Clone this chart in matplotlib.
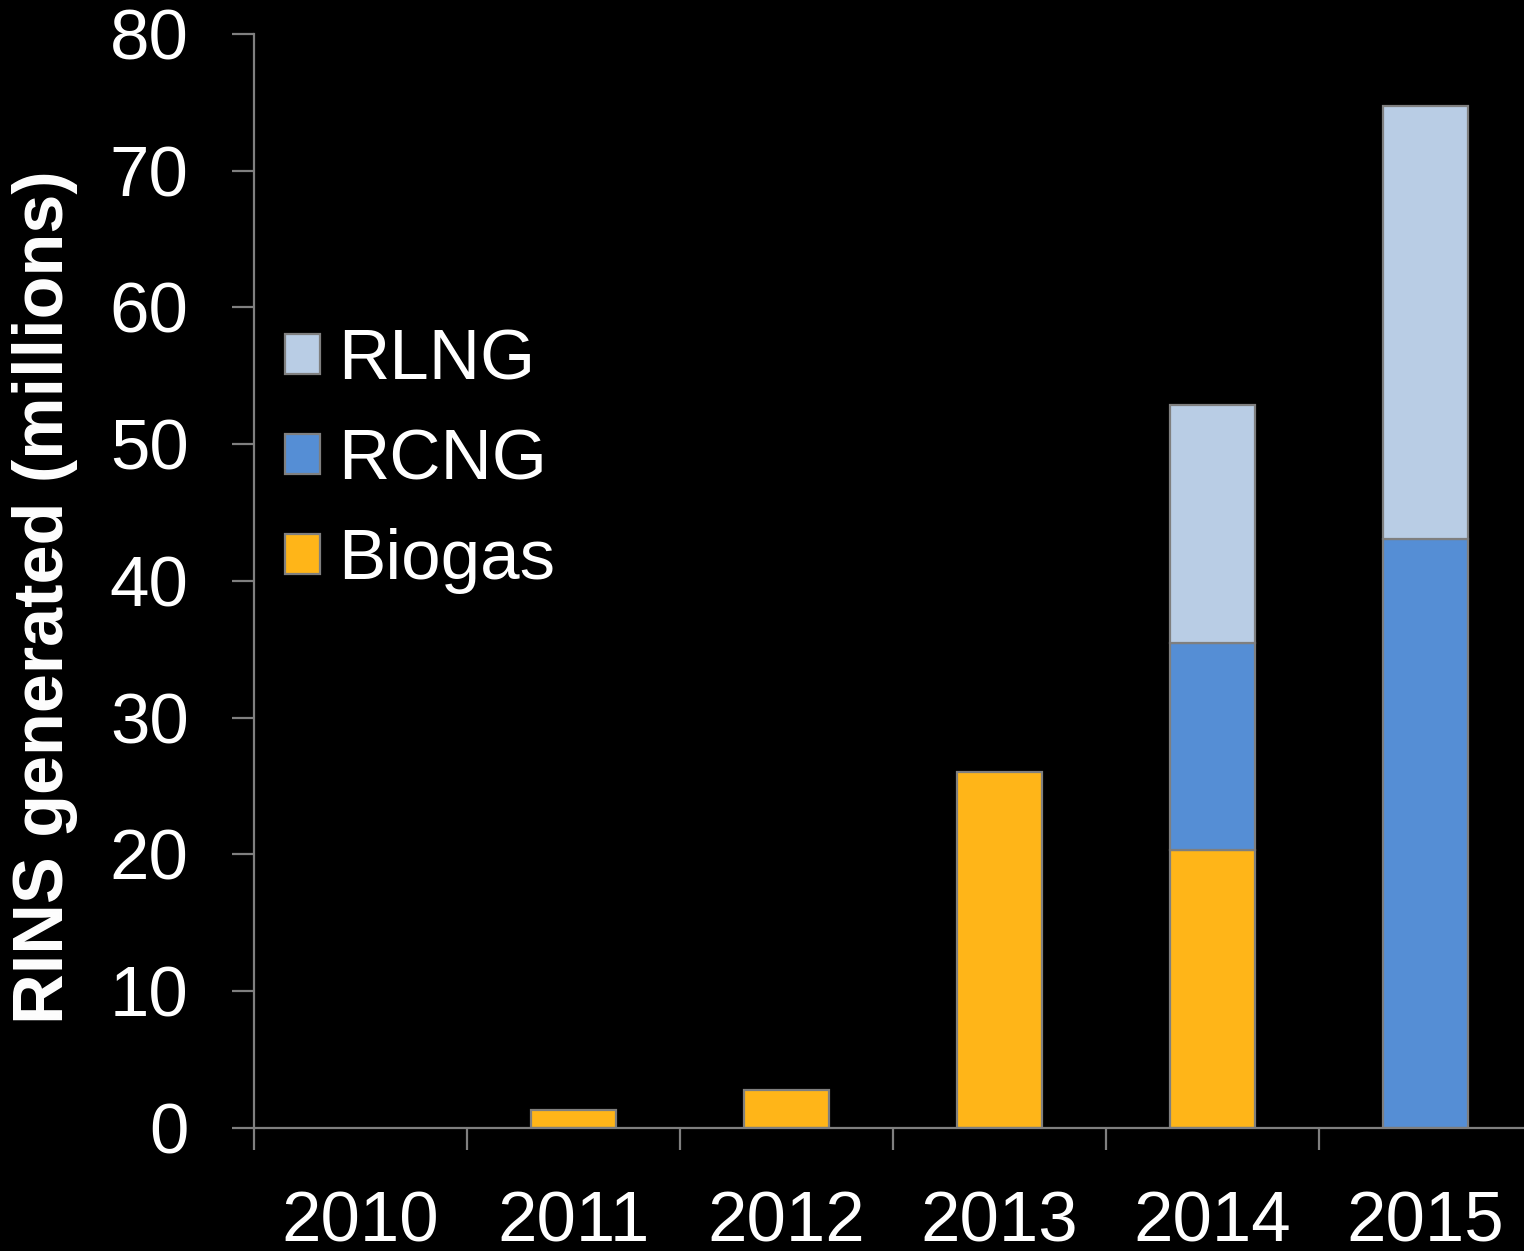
#!/usr/bin/env python3
"""Stacked bar chart of RINs generated per year, by fuel type."""

import matplotlib
matplotlib.use("Agg")
import matplotlib.pyplot as plt  # noqa: E402
import matplotlib.patches as mpatches  # noqa: E402
import numpy as np  # noqa: E402

years = ["2010", "2011", "2012", "2013", "2014", "2015"]
biogas = [0.0, 1.3, 2.8, 26.0, 20.3, 0.0]
rcng = [0.0, 0.0, 0.0, 0.0, 15.2, 43.1]
rlng = [0.0, 0.0, 0.0, 0.0, 17.4, 31.6]

yticks = [0, 10, 20, 30, 40, 50, 60, 70, 80]

C_BIOGAS = "#FFB518"
C_RCNG = "#558ED5"
C_RLNG = "#B9CDE5"
GREY = "#7F7F7F"

plt.rcParams["font.family"] = ["Liberation Sans", "DejaVu Sans"]

W, H = 1524, 1251
fig = plt.figure(figsize=(W / 100, H / 100), dpi=100, facecolor="black")
# axes box in pixels: left 254, bottom 1128, top 34, right runs past the figure
ax = fig.add_axes([254 / W, (H - 1128) / H, (1532 - 254) / W, (1128 - 34) / H])
ax.set_facecolor("black")

x = np.arange(len(years))
bw = 0.40
edge = dict(edgecolor=GREY, linewidth=1.6)
b1 = ax.bar(x, biogas, bw, color=C_BIOGAS, **edge)
bottom2 = np.array(biogas)
b2 = ax.bar(x, rcng, bw, bottom=bottom2, color=C_RCNG, **edge)
bottom3 = bottom2 + np.array(rcng)
b3 = ax.bar(x, rlng, bw, bottom=bottom3, color=C_RLNG, **edge)

# hide zero-height segments so they don't draw a stray edge line
for bars in (b1, b2, b3):
    for r in bars:
        if r.get_height() == 0:
            r.set_visible(False)

ax.set_xlim(-0.5, len(years) - 0.5)
ax.set_ylim(0, 80)

for side in ("top", "right"):
    ax.spines[side].set_visible(False)
for side in ("left", "bottom"):
    ax.spines[side].set_color(GREY)
    ax.spines[side].set_linewidth(1.6)

ax.set_yticks(yticks)
ax.tick_params(axis="y", colors=GREY, labelcolor="white", labelsize=51,
               length=16, width=1.6, pad=31)

# category labels at centers, tick marks at boundaries
ax.set_xticks(x)
ax.set_xticklabels(years)
ax.set_xticks(np.arange(-0.5, len(years) + 0.5, 1.0), minor=True)
ax.tick_params(axis="x", which="major", length=0, labelcolor="white",
               labelsize=51, pad=45)
ax.tick_params(axis="x", which="minor", length=16, width=1.6, colors=GREY)

ax.set_ylabel("RINS generated (millions)", color="white", fontsize=50.5,
              fontweight="bold")
ax.yaxis.set_label_coords(-0.138, 0.485)

handles = [mpatches.Patch(facecolor=c, **edge) for c in (C_RLNG, C_RCNG, C_BIOGAS)]
leg = fig.legend(handles=handles, labels=["RLNG", "RCNG", "Biogas"],
                 loc="upper left", bbox_to_anchor=(285 / W, 1 - 328 / H),
                 frameon=False, fontsize=51, labelcolor="white",
                 handlelength=0.5, handleheight=0.5, handletextpad=0.25,
                 labelspacing=0.48, borderpad=0, borderaxespad=0)

fig.savefig("out.png", dpi=100, facecolor="black")
plt.close(fig)
